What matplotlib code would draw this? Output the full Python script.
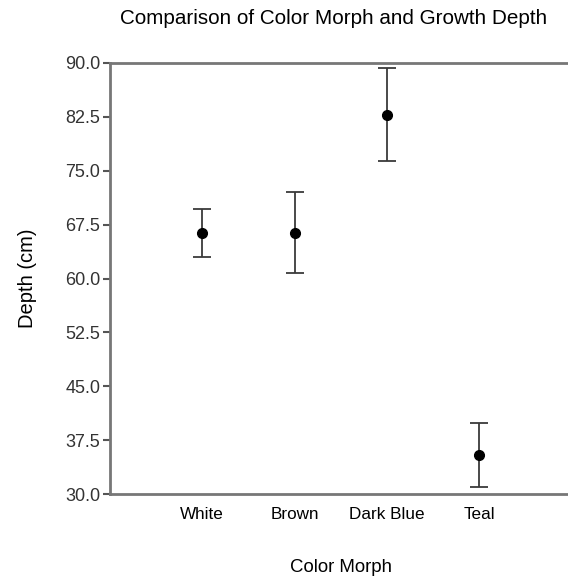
import matplotlib
matplotlib.use("Agg")
import matplotlib.pyplot as plt

categories = ["White", "Brown", "Dark Blue", "Teal"]
means = [66.3, 66.3, 82.7, 35.4]
lower = [63.0, 60.7, 76.3, 31.0]
upper = [69.7, 72.0, 89.2, 39.9]
yticks = [30.0, 37.5, 45.0, 52.5, 60.0, 67.5, 75.0, 82.5, 90.0]

plt.rcParams['font.family'] = ['Liberation Sans', 'DejaVu Sans']

fig = plt.figure(figsize=(5.68, 5.77), dpi=100)
W, H = 568, 577
left, right, top, bottom = 110, 571.5, 62.7, 494.3
ax = fig.add_axes([left / W, (H - bottom) / H, (right - left) / W, (bottom - top) / H])

x = list(range(1, len(categories) + 1))
yerr = [[m - l for m, l in zip(means, lower)], [u - m for m, u in zip(means, upper)]]
ax.errorbar(x, means, yerr=yerr, fmt='o', color='black', ms=7,
            ecolor='#3a3a3a', elinewidth=1.3, capsize=6.5, capthick=1.3)

ax.set_xlim(0, 5)
ax.set_ylim(30, 90)
ax.set_yticks(yticks)
ax.set_yticklabels([f"{v:.1f}" for v in yticks])
ax.set_xticks(x)
ax.set_xticklabels(categories)

for s in ['left', 'top', 'bottom']:
    ax.spines[s].set_color('#777777')
    ax.spines[s].set_linewidth(2)
ax.spines['right'].set_visible(False)
ax.tick_params(axis='y', length=5, width=1.5, color='#555555', labelsize=13, labelcolor='#333333', pad=2)
ax.tick_params(axis='x', length=0, labelsize=12.3, labelcolor='black', pad=9)

ax.set_ylabel("Depth (cm)", fontsize=14.5, labelpad=20)
ax.set_xlabel("Color Morph", fontsize=13.4, labelpad=27)
fig.text(334 / W, 1 - 18 / H, "Comparison of Color Morph and Growth Depth",
         ha='center', va='center', fontsize=14.9)

fig.savefig("out.png", dpi=100)
